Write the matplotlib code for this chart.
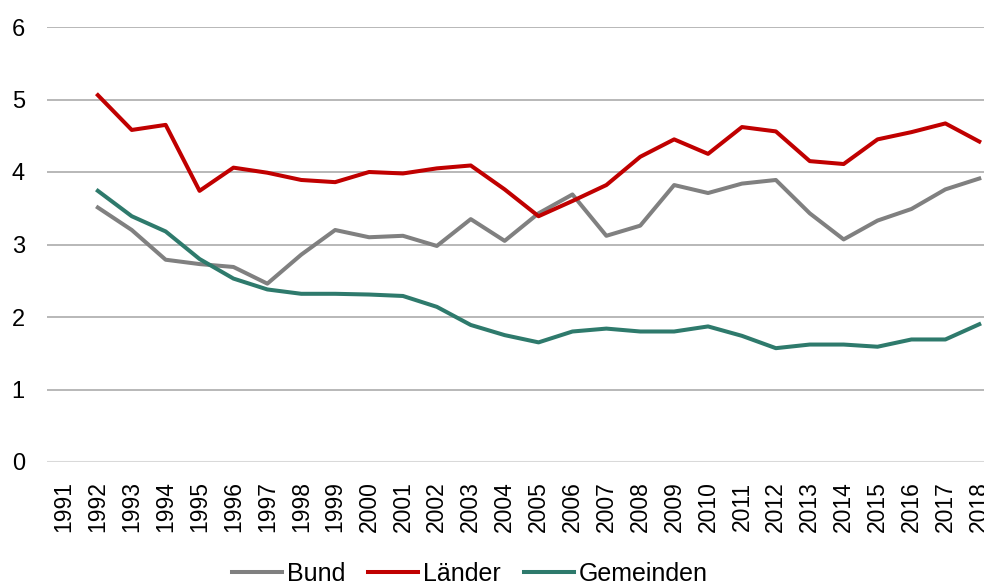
import numpy as np
import matplotlib.pyplot as plt

plt.rcParams['font.family'] = ['Liberation Sans', 'DejaVu Sans']

years = [str(y) for y in range(1991, 2019)]

# no data for 1991
bund = [np.nan, 3.51, 3.20, 2.79, 2.73, 2.69, 2.46, 2.86, 3.20, 3.10, 3.12, 2.98, 3.35, 3.05,
        3.43, 3.69, 3.12, 3.26, 3.82, 3.71, 3.84, 3.89, 3.43, 3.07, 3.33, 3.49, 3.76, 3.91]
laender = [np.nan, 5.06, 4.58, 4.65, 3.74, 4.06, 3.99, 3.89, 3.86, 4.00, 3.98, 4.05, 4.09, 3.76,
           3.39, 3.60, 3.82, 4.21, 4.45, 4.25, 4.62, 4.56, 4.15, 4.11, 4.45, 4.55, 4.67, 4.42]
gemeinden = [np.nan, 3.74, 3.39, 3.18, 2.80, 2.53, 2.38, 2.32, 2.32, 2.31, 2.29, 2.14, 1.89, 1.75,
             1.65, 1.80, 1.84, 1.80, 1.80, 1.87, 1.74, 1.57, 1.62, 1.62, 1.59, 1.69, 1.69, 1.90]

fig = plt.figure(figsize=(9.84, 5.85), dpi=100)
ax = fig.add_axes([47 / 984, 1 - 462 / 585, 1 - 47 / 984, (462 - 27) / 585])

x = np.arange(len(years))
ax.plot(x, bund, color='#808080', lw=2.9, label='Bund')
ax.plot(x, laender, color='#C00000', lw=2.9, label='Länder')
ax.plot(x, gemeinden, color='#2E7A6C', lw=2.9, label='Gemeinden')

ax.set_ylim(0, 6)
ax.set_xlim(-0.5, 27.14)
ax.set_yticks(range(7))
ax.set_xticks(x)
ax.set_xticklabels(years, rotation=90)
ax.tick_params(axis='y', length=0, pad=16, labelsize=17)
ax.tick_params(axis='x', length=0, pad=14, labelsize=16.5)
for s in ax.spines.values():
    s.set_visible(False)
ax.grid(axis='y', color='#B8B8B8', lw=1.4)
ax.axhline(0, color='#D9D9D9', lw=1.5)
ax.set_axisbelow(True)

ax.legend(loc='center', bbox_to_anchor=(470 / 984, 1 - 574 / 585), bbox_transform=fig.transFigure,
          ncol=3, frameon=False, fontsize=18, handlelength=2.0, handletextpad=0.2,
          columnspacing=0.9, borderaxespad=0)

fig.savefig('out.png', dpi=100)
